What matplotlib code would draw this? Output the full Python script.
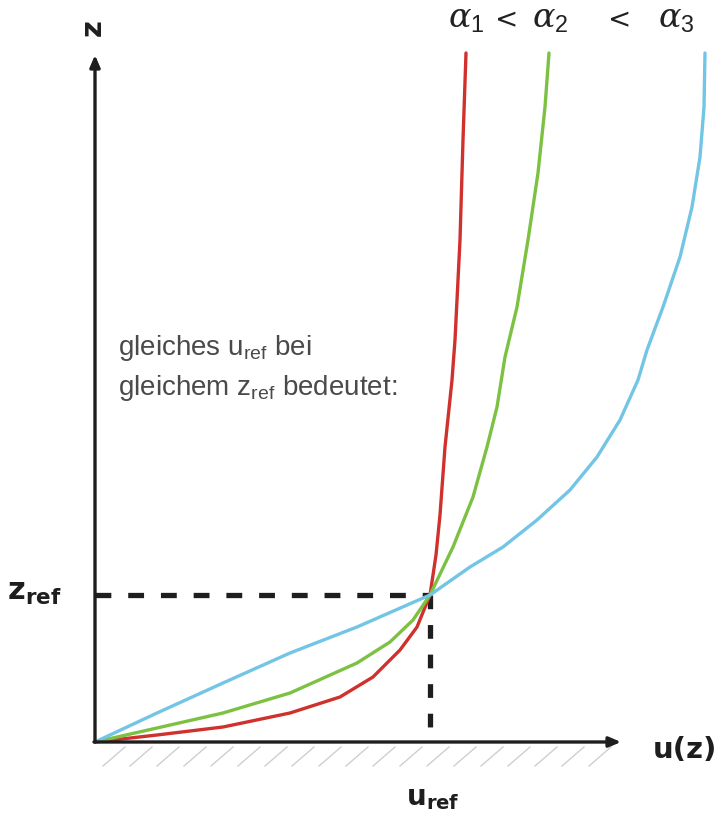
import matplotlib
matplotlib.use("Agg")
import matplotlib.pyplot as plt

plt.rcParams['font.family'] = ['Liberation Sans', 'DejaVu Sans']
plt.rcParams['mathtext.fontset'] = 'custom'
plt.rcParams['mathtext.rm'] = 'Liberation Sans'
plt.rcParams['mathtext.it'] = 'DejaVu Serif:italic'
plt.rcParams['mathtext.bf'] = 'DejaVu Sans:bold'

# ---- data (u, z in drawing units; origin at ground) ----
u_ref = 335
z_ref = 147

red_u = [0, 62, 128, 195, 245, 278, 305, 322, 335, 341, 345, 350, 357, 360, 365, 368, 371]
red_z = [0, 7, 15, 29, 45, 65, 92, 115, 147, 187, 227, 295, 362, 402, 502, 602, 689]

green_u = [0, 62, 128, 195, 262, 295, 318, 335, 358, 378, 392, 402, 410, 422, 433, 443, 450, 454]
green_z = [0, 14, 29, 49, 79, 100, 122, 147, 195, 245, 295, 335, 385, 435, 502, 569, 635, 689]

blue_u = [0, 62, 128, 195, 262, 335, 375, 408, 442, 475, 502, 525, 543, 552, 568, 585, 597, 605, 609, 610]
blue_z = [0, 29, 59, 89, 115, 147, 175, 195, 222, 252, 285, 322, 362, 392, 435, 485, 535, 585, 635, 689]

series = [("red", red_u, red_z, "#d0312d"),
          ("green", green_u, green_z, "#7cc142"),
          ("blue", blue_u, blue_z, "#72c5e5")]

alpha_labels = [r"$\alpha_1$", "<", r"$\alpha_2$", "<", r"$\alpha_3$"]
alpha_label_u = [353, 400, 437, 513, 563]

fig = plt.figure(figsize=(7.28, 8.19), dpi=100)
ax = fig.add_axes([0, 0, 1, 1])
ax.set_xlim(-95, 633)
ax.set_ylim(-77, 742)
ax.axis('off')

axis_col = "#1e1e1e"

# ground hatching
for k in range(19):
    x0 = 8 + k * 27
    ax.plot([x0, x0 + 22], [-24, -5], color="#cfcfcf", lw=1.0, zorder=1)

# axes arrows
ax.annotate("", xy=(0, 687), xytext=(0, 0),
            arrowprops=dict(arrowstyle="-|>,head_length=0.7,head_width=0.3",
                            lw=2.4, color=axis_col, shrinkA=0, shrinkB=0), zorder=5)
ax.annotate("", xy=(526, 0), xytext=(-1, 0),
            arrowprops=dict(arrowstyle="-|>,head_length=0.7,head_width=0.3",
                            lw=2.4, color=axis_col, shrinkA=0, shrinkB=0), zorder=5)

# reference dashed lines
ax.plot([0, u_ref], [z_ref, z_ref], color=axis_col, lw=3.8,
        dashes=(3.0, 3.2), zorder=3)
ax.plot([u_ref, u_ref], [z_ref, 8], color=axis_col, lw=3.8,
        dashes=(2.6, 3.0), zorder=3)

# curves
for name, us, zs, col in series:
    ax.plot(us, zs, color=col, lw=2.4, solid_joinstyle='round',
            solid_capstyle='round', zorder=4)

# labels
ax.text(-2, 714, "z", rotation=90, fontsize=21, fontweight='bold',
        family='DejaVu Sans', ha='center', va='center', color=axis_col)
for lab, u in zip(alpha_labels, alpha_label_u):
    fs = 24 if lab != "<" else 20
    ax.text(u, 714, lab, fontsize=fs, ha='left', va='baseline',
            family='DejaVu Serif', color="#222222")

ax.text(-88, 150, r"$\mathbf{z}_{\mathbf{ref}}$", fontsize=22,
        ha='left', va='center', color=axis_col)
ax.text(u_ref + 3, -63, r"$\mathbf{u}_{\mathbf{ref}}$", fontsize=20,
        ha='center', va='baseline', color=axis_col)
ax.text(558, -8, "u(z)", fontsize=21, fontweight='bold', family='DejaVu Sans',
        ha='left', va='center', color=axis_col)

ax.text(23, 387, r"gleiches u$_{\mathrm{ref}}$ bei", fontsize=20,
        ha='left', va='baseline', color="#4a4a4a")
ax.text(23, 347, r"gleichem z$_{\mathrm{ref}}$ bedeutet:", fontsize=20,
        ha='left', va='baseline', color="#4a4a4a")

fig.savefig("out.png", dpi=100)
